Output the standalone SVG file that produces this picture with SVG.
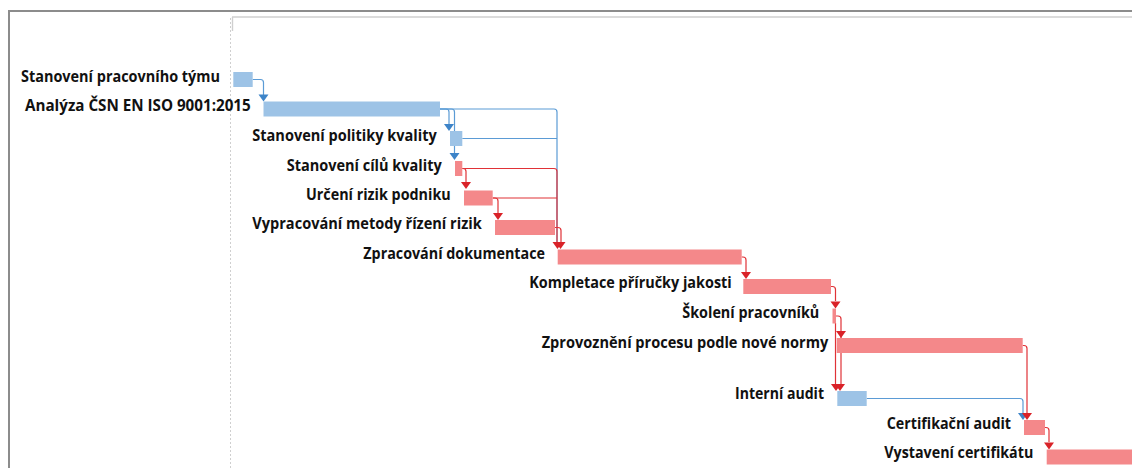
<svg xmlns="http://www.w3.org/2000/svg" width="1132" height="468" viewBox="0 0 1132 468">
  <style>
    .lbl { font-family: "Open Sans", "Noto Sans", "DejaVu Sans", sans-serif; font-size: 16px; font-weight: 700; fill: #111; }
    .bar-b { fill: #9dc3e6; }
    .bar-r { fill: #f4888a; }
    .ln-b { fill: none; stroke: #5b9bd5; stroke-width: 1.2; }
    .ln-r { fill: none; stroke: #e03237; stroke-width: 1.2; }
    .ah-b { fill: #3d84c8; }
    .ah-r { fill: #d92228; }
  </style>
  <defs>
    <!-- arrowhead: tip at origin, pointing down -->
    <polygon id="ah" points="-5,-7 5,-7 0,0"/>
  </defs>

  <rect width="1132" height="468" fill="#ffffff"/>

  <!-- frame and chart header -->
  <g id="frame">
    <line x1="8" y1="11" x2="1132" y2="11" stroke="#8c8c8c" stroke-width="2"/>
    <line x1="9" y1="10" x2="9" y2="468" stroke="#8c8c8c" stroke-width="2"/>
    <line x1="232" y1="17" x2="1132" y2="17" stroke="#cfcfcf" stroke-width="1.6"/>
    <line x1="232.5" y1="17" x2="232.5" y2="31" stroke="#cfcfcf" stroke-width="1.4"/>
    <line x1="230.5" y1="18" x2="230.5" y2="468" stroke="#cfcfcf" stroke-width="1" stroke-dasharray="2,2"/>
  </g>

  <!-- dependency links -->
  <g id="connectors">
    <!-- blue links -->
    <path class="ln-b" d="M252.7,79.5 H260.5 Q263.5,79.5 263.5,82.5 V95"/>
    <path class="ln-b" d="M440,109 H446 Q449,109 449,112 V124"/>
    <path class="ln-b" d="M440,109 H451.5 Q454.5,109 454.5,112 V153"/>
    <path class="ln-b" d="M440,109 H554 Q557,109 557,112 V242"/>
    <path class="ln-b" d="M462.3,138.5 H557" stroke-width="2" stroke="#8fb9e3"/>
    <path class="ln-b" d="M866.7,398.5 H1020 Q1023,398.5 1023,401.5 V413"/>

    <!-- red links -->
    <path class="ln-r" d="M462.3,168.5 H463 Q466,168.5 466,171.5 V182"/>
    <path class="ln-r" d="M462.3,168.5 H554 Q557,168.5 557,171.5 V242"/>
    <path class="ln-r" d="M492.7,198 H495 Q498,198 498,201 V213"/>
    <path class="ln-r" d="M492.7,198 H557"/>
    <path class="ln-r" d="M555,227.5 H558 Q561,227.5 561,230.5 V242"/>
    <path class="ln-r" d="M741.7,257 H743 Q746,257 746,260 V272"/>
    <path class="ln-r" d="M831,286.5 H832.5 Q835.5,286.5 835.5,289.5 V301"/>
    <path class="ln-r" d="M836,316 H838 Q841,316 841,319 V331"/>
    <path class="ln-r" d="M835.5,323 V384"/>
    <path class="ln-r" d="M841,331 V384"/>
    <path class="ln-r" d="M1022.7,345.5 H1024 Q1027,345.5 1027,348.5 V413"/>
    <path class="ln-r" d="M1045,427.5 H1046 Q1049,427.5 1049,430.5 V442"/>

    <!-- arrowheads -->
    <use href="#ah" class="ah-b" x="263.5" y="101.5"/>
    <use href="#ah" class="ah-b" x="449" y="131"/>
    <use href="#ah" class="ah-b" x="454.5" y="160"/>
    <use href="#ah" class="ah-r" x="466" y="189"/>
    <use href="#ah" class="ah-r" x="498" y="220"/>
    <use href="#ah" class="ah-r" x="557.5" y="249"/>
    <use href="#ah" class="ah-r" x="560.5" y="249"/>
    <use href="#ah" class="ah-r" x="746" y="279"/>
    <use href="#ah" class="ah-r" x="835.5" y="308.5"/>
    <use href="#ah" class="ah-r" x="841" y="338"/>
    <use href="#ah" class="ah-r" x="836" y="391"/>
    <use href="#ah" class="ah-r" x="840" y="391"/>
    <use href="#ah" class="ah-b" x="1023" y="420"/>
    <use href="#ah" class="ah-r" x="1027" y="420"/>
    <use href="#ah" class="ah-r" x="1049" y="449.5"/>
  </g>

  <!-- tasks -->
  <g id="task-01">
    <rect class="bar-b" x="233.3" y="72" width="19.4" height="15"/>
    <text class="lbl" x="21" y="81.5" textLength="199" lengthAdjust="spacingAndGlyphs">Stanovení pracovního týmu</text>
  </g>
  <g id="task-02">
    <rect class="bar-b" x="263.5" y="101.5" width="176.5" height="15"/>
    <text class="lbl" x="25" y="111" textLength="225.7" lengthAdjust="spacingAndGlyphs">Analýza ČSN EN ISO 9001:2015</text>
  </g>
  <g id="task-03">
    <rect class="bar-b" x="450" y="131" width="12.3" height="15"/>
    <text class="lbl" x="252.3" y="140.5" textLength="184.4" lengthAdjust="spacingAndGlyphs">Stanovení politiky kvality</text>
  </g>
  <g id="task-04">
    <rect class="bar-r" x="455" y="161" width="7.3" height="15"/>
    <text class="lbl" x="286.7" y="170.5" textLength="155" lengthAdjust="spacingAndGlyphs">Stanovení cílů kvality</text>
  </g>
  <g id="task-05">
    <rect class="bar-r" x="464" y="190.5" width="28.7" height="15"/>
    <text class="lbl" x="306" y="200" textLength="144.7" lengthAdjust="spacingAndGlyphs">Určení rizik podniku</text>
  </g>
  <g id="task-06">
    <rect class="bar-r" x="495" y="220" width="60" height="15"/>
    <text class="lbl" x="252.3" y="229.3" textLength="229.4" lengthAdjust="spacingAndGlyphs">Vypracování metody řízení rizik</text>
  </g>
  <g id="task-07">
    <rect class="bar-r" x="557.7" y="249.5" width="184" height="15"/>
    <text class="lbl" x="363.3" y="258.8" textLength="181.7" lengthAdjust="spacingAndGlyphs">Zpracování dokumentace</text>
  </g>
  <g id="task-08">
    <rect class="bar-r" x="743.3" y="279" width="87.7" height="15"/>
    <text class="lbl" x="529.3" y="288.3" textLength="202.4" lengthAdjust="spacingAndGlyphs">Kompletace příručky jakosti</text>
  </g>
  <g id="task-09">
    <rect class="bar-r" x="832.5" y="308.5" width="3.5" height="15"/>
    <text class="lbl" x="682.3" y="318" textLength="137" lengthAdjust="spacingAndGlyphs">Školení pracovníků</text>
  </g>
  <g id="task-10">
    <rect class="bar-r" x="836.7" y="338" width="186" height="15"/>
    <text class="lbl" x="541.7" y="348" textLength="286.6" lengthAdjust="spacingAndGlyphs">Zprovoznění procesu podle nové normy</text>
  </g>
  <g id="task-11">
    <rect class="bar-b" x="837.3" y="391" width="29.4" height="15"/>
    <text class="lbl" x="735" y="399" textLength="89" lengthAdjust="spacingAndGlyphs">Interní audit</text>
  </g>
  <g id="task-12">
    <rect class="bar-r" x="1024" y="420" width="21" height="15"/>
    <text class="lbl" x="886.7" y="429" textLength="124.3" lengthAdjust="spacingAndGlyphs">Certifikační audit</text>
  </g>
  <g id="task-13">
    <rect class="bar-r" x="1046.7" y="449.5" width="90" height="15"/>
    <text class="lbl" x="884.3" y="458.3" textLength="149" lengthAdjust="spacingAndGlyphs">Vystavení certifikátu</text>
  </g>
</svg>
